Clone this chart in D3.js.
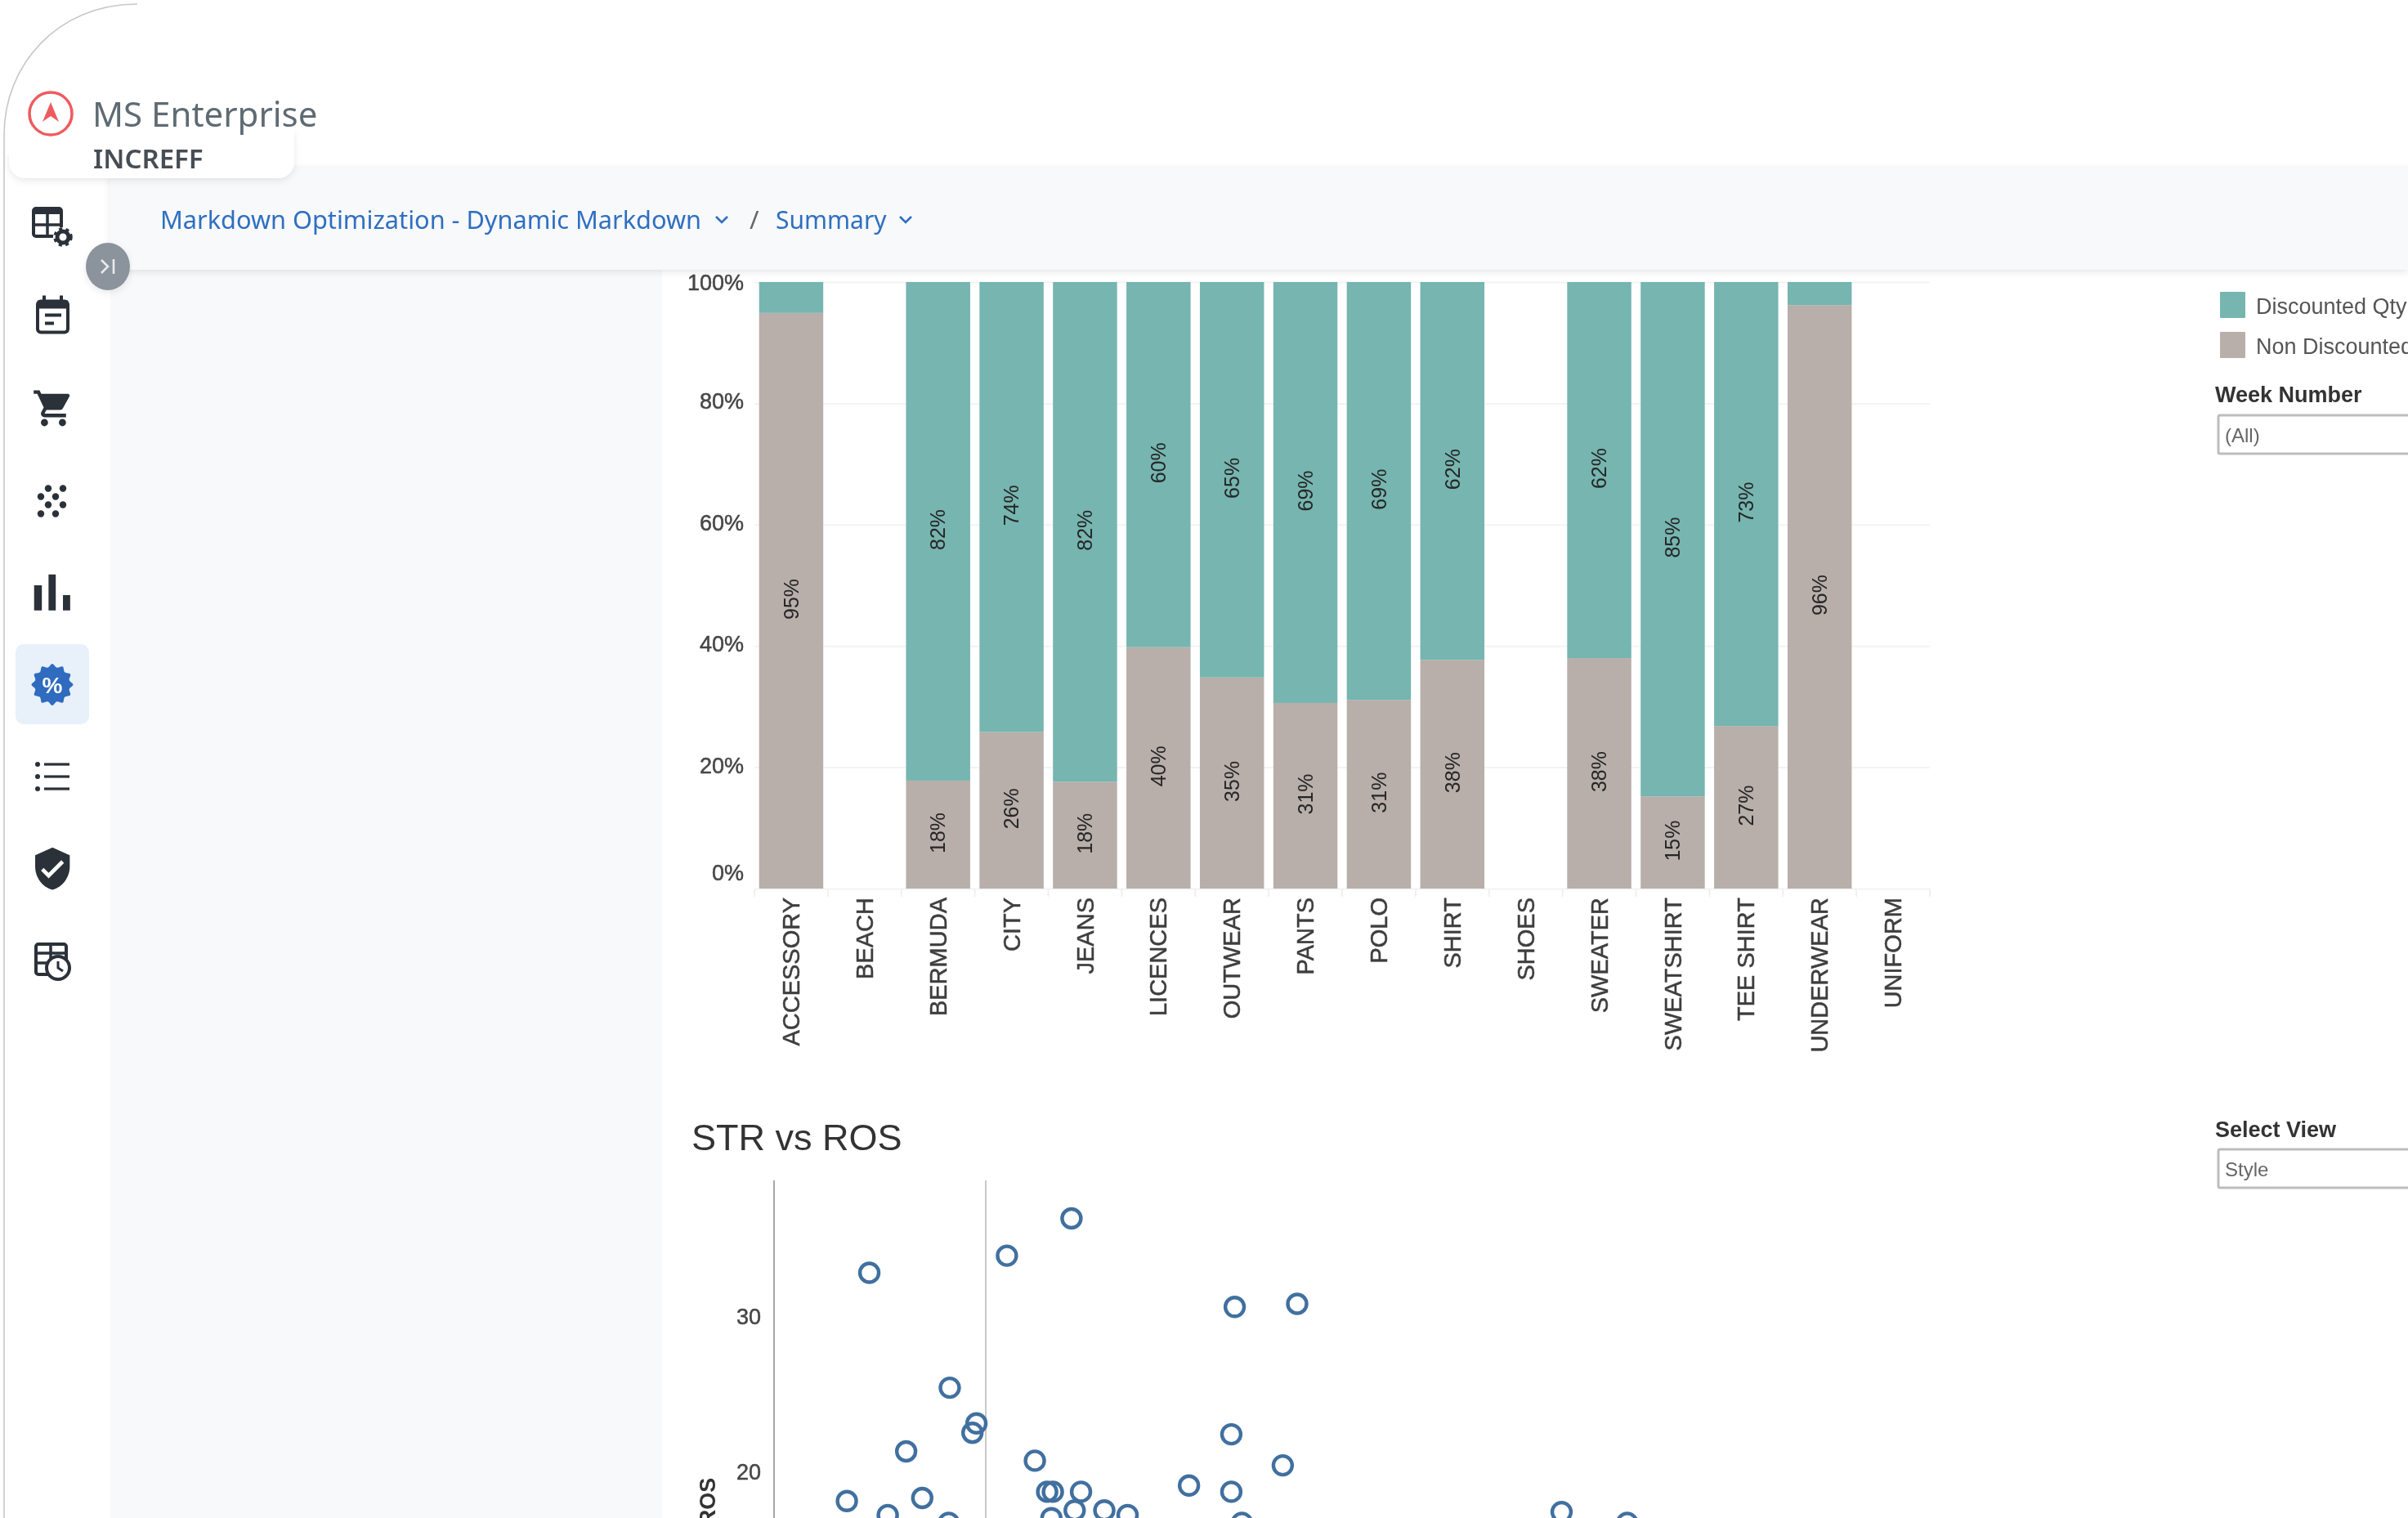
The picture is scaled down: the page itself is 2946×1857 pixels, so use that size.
<!DOCTYPE html>
<html>
<head>
<meta charset="utf-8">
<title>STR vs ROS</title>
<script src="https://d3js.org/d3.v7.min.js"></script>
<style>
    html, body { margin: 0; padding: 0; background: #fff; overflow: hidden; }
    svg { display: block; filter: blur(0.7px); }
    text { font-family: "Liberation Sans", Arial, sans-serif; }
    .ui text, text.ui { font-family: "Noto Sans", sans-serif; }
    .axis path { display: none; }
    .axis text { stroke: #444; stroke-width: 0.5; }
    .grid line { stroke: #f3f3f4; stroke-width: 2; }
    .grid text { display: none; }
    .grid path { display: none; }
</style>
</head>
<body>
<div id="page"></div>
<script>
// discount split per category, null = no sales
const categories = ['ACCESSORY','BEACH','BERMUDA','CITY','JEANS','LICENCES','OUTWEAR','PANTS','POLO','SHIRT','SHOES','SWEATER','SWEATSHIRT','TEE SHIRT','UNDERWEAR','UNIFORM'];
const nonDiscounted = [94.9,null,17.8,25.8,17.6,39.8,34.8,30.6,31.1,37.7,null,38.0,15.2,26.8,96.2,null];
const discounted = [5.1,null,82.2,74.2,82.4,60.2,65.2,69.4,68.9,62.3,null,62.0,84.8,73.2,3.8,null];
const percentTicks = [0,20,40,60,80,100];

const strValues = [14.05,11.0,4.5,21.76,24.71,8.3,9.56,9.37,21.6,6.24,12.32,24.03,19.6,21.6,12.9,13.17,14.5,3.44,7.0,5.37,14.2,15.6,16.7,13.1,37.2,40.3,8.25,22.1];
const rosValues = [36.5,34.1,33.0,30.8,31.0,25.6,23.3,22.7,22.6,21.5,20.9,20.6,19.3,18.9,18.9,18.9,18.9,18.3,18.5,17.4,17.7,17.7,17.4,17.2,17.6,16.9,16.9,16.9];
const rosTicks = [20,30];
const strReference = 10;

const iconRows = ['table','calendar','cart','dots','bars','discount','list','shield','clock'];

const pageWidth = 2946, pageHeight = 1857;
const teal = '#76b5b0', taupe = '#b8aeaa', pale = '#f8f9fb', ink = '#2a3138', blue = '#2f6fc0';

const svg = d3.select('#page').append('svg')
    .attr('width', pageWidth)
    .attr('height', pageHeight);

const defs = svg.append('defs');
defs.append('filter').attr('id', 'soft').attr('x', '-5%').attr('y', '-30%').attr('width', '110%').attr('height', '160%')
    .append('feDropShadow').attr('dx', 0).attr('dy', 3).attr('stdDeviation', 4).attr('flood-color', '#000').attr('flood-opacity', 0.09);

// sidebar icons, all drawn around 0,0
const drawIcon = {
    table(g) {
        g.append('rect').attr('x', -23).attr('y', -20).attr('width', 34).attr('height', 34).attr('rx', 3)
            .attr('fill', 'none').attr('stroke', ink).attr('stroke-width', 4);
        g.append('rect').attr('x', -23).attr('y', -21).attr('width', 34).attr('height', 8).attr('fill', ink);
        g.append('path').attr('d', 'M-6,-15 V14 M-23,0 H11').attr('stroke', ink).attr('stroke-width', 3.5);
        g.append('circle').attr('cx', 13).attr('cy', 15).attr('r', 12).attr('fill', '#fff');
        g.append('circle').attr('cx', 13).attr('cy', 15).attr('r', 7).attr('fill', 'none').attr('stroke', ink).attr('stroke-width', 5);
        g.append('circle').attr('cx', 13).attr('cy', 15).attr('r', 10).attr('fill', 'none').attr('stroke', ink)
            .attr('stroke-width', 3.5).attr('stroke-dasharray', '4 4.4');
    },
    calendar(g) {
        g.append('rect').attr('x', -18).attr('y', -19).attr('width', 37).attr('height', 38).attr('rx', 4)
            .attr('fill', 'none').attr('stroke', ink).attr('stroke-width', 4);
        g.append('rect').attr('x', -18).attr('y', -20).attr('width', 37).attr('height', 10).attr('fill', ink);
        g.append('path').attr('d', 'M-10,-26 V-16 M11,-26 V-16').attr('stroke', ink).attr('stroke-width', 4);
        g.append('path').attr('d', 'M-9,-2 H11 M-9,8 H2').attr('stroke', ink).attr('stroke-width', 4);
    },
    cart(g) {
        g.append('path').attr('transform', 'translate(-25,-27) scale(2.2)').attr('fill', ink)
            .attr('d', 'M7 18c-1.1 0-1.99.9-1.99 2S5.9 22 7 22s2-.9 2-2-.9-2-2-2zM1 2v2h2l3.6 7.59-1.35 2.45c-.16.28-.25.61-.25.96 0 1.1.9 2 2 2h12v-2H7.42c-.14 0-.25-.11-.25-.25l.03-.12.9-1.63h7.45c.75 0 1.41-.41 1.75-1.03l3.58-6.47c.08-.14.12-.31.12-.48 0-.55-.45-1-1-1H5.21l-.94-2H1zm16 16c-1.1 0-1.99.9-1.99 2s.89 2 1.99 2 2-.9 2-2-.9-2-2-2z');
    },
    dots(g) {
        let offsets = [[-5,-15],[13,-15],[-14,-5],[4,-5],[-5,5],[13,5],[-14,16],[4,16]];
        g.selectAll('circle').data(offsets).enter().append('circle')
            .attr('cx', d => d[0]).attr('cy', d => d[1]).attr('r', 4.2).attr('fill', ink);
    },
    bars(g) {
        g.append('path').attr('transform', 'translate(-38,-38) scale(3.15)').attr('fill', ink)
            .attr('d', 'M5 9.2h3V19H5zM10.6 5h2.8v14h-2.8zm5.6 8H19v6h-2.8z');
    },
    discount(g) {
        let radial = d3.lineRadial().curve(d3.curveCardinalClosed)
            .angle((d, i) => i * Math.PI / 12)
            .radius((d, i) => i % 2 ? 21.5 : 25.5);
        g.append('path').attr('d', radial(d3.range(24))).attr('fill', '#2f6bbf');
        g.append('text').attr('y', 10).attr('text-anchor', 'middle').attr('font-size', 28).attr('font-weight', 700)
            .attr('fill', '#fff').text('%');
    },
    list(g) {
        [-15, 0, 15].forEach(y => {
            g.append('circle').attr('cx', -18).attr('cy', y).attr('r', 3).attr('fill', ink);
            g.append('path').attr('d', `M-10,${y} H21`).attr('stroke', ink).attr('stroke-width', 3.2);
        });
    },
    shield(g) {
        g.append('path').attr('transform', 'translate(-28,-28) scale(2.35)').attr('fill', ink)
            .attr('d', 'M12 1L3 5v6c0 5.55 3.84 10.74 9 12 5.16-1.26 9-6.45 9-12V5l-9-4zm-2 16l-4-4 1.41-1.41L10 14.17l6.59-6.59L18 9l-8 8z');
    },
    clock(g) {
        g.append('rect').attr('x', -20).attr('y', -20).attr('width', 37).attr('height', 37).attr('rx', 3)
            .attr('fill', 'none').attr('stroke', ink).attr('stroke-width', 4);
        g.append('path').attr('d', 'M-20,-9 H17 M-20,3 H17 M-2,-20 V17').attr('stroke', ink).attr('stroke-width', 3.5);
        g.append('circle').attr('cx', 7).attr('cy', 9).attr('r', 14).attr('fill', '#fff').attr('stroke', ink).attr('stroke-width', 4);
        g.append('path').attr('d', 'M7,1 V9 L13,13').attr('fill', 'none').attr('stroke', ink).attr('stroke-width', 3);
    }
};

drawShell();
drawStackedBars();
drawScatter();
drawLegend();

function drawShell() {
    // page background pieces
    svg.append('rect').attr('x', 135).attr('y', 205).attr('width', 675).attr('height', pageHeight - 205).attr('fill', pale);
    svg.append('rect').attr('x', 135).attr('y', 203).attr('width', pageWidth - 135).attr('height', 127)
        .attr('fill', pale).attr('filter', 'url(#soft)');

    // logo card
    svg.append('rect').attr('x', 11).attr('y', 150).attr('width', 349).attr('height', 68).attr('rx', 20)
        .attr('fill', '#fff').attr('filter', 'url(#soft)');
    svg.append('rect').attr('x', 7).attr('y', 90).attr('width', 353).attr('height', 100).attr('fill', '#fff');

    // outer frame with the rounded corner
    svg.append('path')
        .attr('d', `M5,${pageHeight} L5,165 C5,80 70,5 168,5`)
        .attr('fill', 'none').attr('stroke', '#c6c8ca').attr('stroke-width', 1.6);

    let logo = svg.append('g').attr('transform', 'translate(62,139)');
    logo.append('circle').attr('r', 26).attr('fill', 'none').attr('stroke', '#ee5b5f').attr('stroke-width', 3.5);
    logo.append('path').attr('d', 'M0,-14 L10,10 L0,3 L-10,10 Z').attr('fill', '#ee5b5f');

    let ui = svg.append('g').attr('class', 'ui');
    ui.append('text').attr('x', 113).attr('y', 155).attr('font-size', 42).attr('fill', '#5f6b73').text('MS Enterprise');
    ui.append('text').attr('x', 114).attr('y', 206).attr('font-size', 33).attr('font-weight', 600).attr('fill', '#474d54').text('INCREFF');

    // breadcrumb
    ui.append('text').attr('x', 196).attr('y', 280).attr('font-size', 30.7).attr('fill', blue).text('Markdown Optimization - Dynamic Markdown');
    ui.append('text').attr('x', 917).attr('y', 280).attr('font-size', 31).attr('fill', '#666').text('/');
    ui.append('text').attr('x', 949).attr('y', 280).attr('font-size', 30).attr('fill', blue).text('Summary');
    [883, 1108].forEach(cx => {
        ui.append('path').attr('d', `M${cx - 7},265 l7,7 l7,-7`)
            .attr('fill', 'none').attr('stroke', blue).attr('stroke-width', 2.6);
    });

    // collapse button
    svg.append('ellipse').attr('cx', 132).attr('cy', 326).attr('rx', 27).attr('ry', 29)
        .attr('fill', '#8b939c').attr('filter', 'url(#soft)');
    svg.append('path').attr('d', 'M124,318 l8,8 l-8,8 M139,317 l0,18')
        .attr('fill', 'none').attr('stroke', '#e8eaec').attr('stroke-width', 2.6);

    // active menu tile
    svg.append('rect').attr('x', 19).attr('y', 788).attr('width', 90).attr('height', 98).attr('rx', 10).attr('fill', '#e8f0fa');

    iconRows.forEach((name, i) => {
        let cy = 275 + i * 112.5;
        drawIcon[name](svg.append('g').attr('transform', `translate(64,${cy})`));
    });
}

function drawStackedBars() {
    let margin = {top: 345, left: 923, right: 2361, bottom: 1087};

    let x = d3.scaleBand()
        .domain(categories)
        .range([margin.left, margin.right])
        .paddingInner(0.127)
        .paddingOuter(0.0635);

    let y = d3.scaleLinear()
        .domain([0, 100])
        .range([margin.bottom, margin.top]);

    // gridlines behind the bars
    svg.append('g')
        .attr('class', 'grid')
        .attr('transform', `translate(${margin.left},0)`)
        .call(d3.axisLeft(y).tickValues(percentTicks).tickSize(-(margin.right - margin.left)));

    // small marks between the categories
    let step = x.step();
    svg.append('g').selectAll('line')
        .data(d3.range(categories.length + 1))
        .enter().append('line')
        .attr('x1', d => margin.left + d * step)
        .attr('x2', d => margin.left + d * step)
        .attr('y1', margin.bottom + 1)
        .attr('y2', margin.bottom + 10)
        .attr('stroke', '#f0f0f0')
        .attr('stroke-width', 2);

    let rows = categories.map((c, i) => ({
        category: c,
        nonDiscounted: nonDiscounted[i],
        discounted: discounted[i]
    })).filter(d => d.nonDiscounted !== null);

    let stack = d3.stack().keys(['nonDiscounted', 'discounted'])(rows);
    let colors = {nonDiscounted: taupe, discounted: teal};

    stack.forEach(layer => {
        svg.append('g').selectAll('rect')
            .data(layer)
            .enter().append('rect')
            .attr('x', d => x(d.data.category))
            .attr('width', x.bandwidth())
            .attr('y', d => y(d[1]))
            .attr('height', d => y(d[0]) - y(d[1]))
            .attr('fill', colors[layer.key]);

        // small segments carry no label
        svg.append('g').selectAll('text')
            .data(layer.filter(d => d.data[layer.key] >= 10))
            .enter().append('text')
            .attr('transform', d => `translate(${x(d.data.category) + x.bandwidth() / 2},${y((d[0] + d[1]) / 2) - 2}) rotate(-90)`)
            .attr('text-anchor', 'middle')
            .attr('dy', '.35em')
            .attr('font-size', 25)
            .attr('fill', '#262626')
            .text(d => Math.round(d.data[layer.key]) + '%');
    });

    // y axis
    let yAxis = svg.append('g')
        .attr('class', 'axis')
        .attr('transform', `translate(${margin.left - 1},0)`)
        .call(d3.axisLeft(y).tickValues(percentTicks).tickSize(0).tickPadding(12).tickFormat(d => d + '%'));
    yAxis.selectAll('text')
        .attr('font-size', 27)
        .attr('fill', '#474747')
        .attr('dy', d => d === 0 ? '-0.4em' : d === 100 ? '0.34em' : '0.24em');

    // x axis
    let xAxis = svg.append('g')
        .attr('class', 'axis')
        .attr('transform', `translate(0,${margin.bottom})`)
        .call(d3.axisBottom(x).tickSize(0));
    xAxis.selectAll('text')
        .attr('transform', 'rotate(-90)')
        .attr('text-anchor', 'end')
        .attr('x', -11)
        .attr('y', 0)
        .attr('dy', '.35em')
        .attr('font-size', 29)
        .attr('fill', '#3d3d3d');
}

function drawScatter() {
    let x = d3.scaleLinear().domain([0, 10]).range([947, 1206]);
    let y = d3.scaleLinear().domain([20, 30]).range([1804, 1614]);

    svg.append('text')
        .attr('x', 846).attr('y', 1407)
        .attr('font-size', 45)
        .attr('fill', '#333')
        .text('STR vs ROS');

    svg.append('line')
        .attr('x1', x(0)).attr('x2', x(0)).attr('y1', 1444).attr('y2', pageHeight)
        .attr('stroke', '#a8a8a8').attr('stroke-width', 2);
    svg.append('line')
        .attr('x1', x(strReference)).attr('x2', x(strReference)).attr('y1', 1444).attr('y2', pageHeight)
        .attr('stroke', '#c9c9c9').attr('stroke-width', 2);

    let yAxis = svg.append('g')
        .attr('class', 'axis')
        .attr('transform', 'translate(947,0)')
        .call(d3.axisLeft(y).tickValues(rosTicks).tickSize(0).tickPadding(16));
    yAxis.selectAll('text')
        .attr('font-size', 27)
        .attr('fill', '#474747')
        .attr('dy', '0.22em');

    svg.append('text')
        .attr('transform', 'translate(875,1837) rotate(-90)')
        .attr('text-anchor', 'middle')
        .attr('font-size', 27)
        .attr('font-weight', 700)
        .attr('fill', '#333')
        .text('ROS');

    svg.append('g').selectAll('circle')
        .data(strValues.map((d, i) => [d, rosValues[i]]))
        .enter().append('circle')
        .attr('cx', d => x(d[0]))
        .attr('cy', d => y(d[1]))
        .attr('r', 11.5)
        .attr('fill', 'none')
        .attr('stroke', '#41709f')
        .attr('stroke-width', 4.4);
}

function drawLegend() {
    let items = [
        {label: 'Discounted Qty', color: teal, top: 357},
        {label: 'Non Discounted Qty', color: taupe, top: 406}
    ];
    items.forEach(d => {
        svg.append('rect').attr('x', 2716).attr('y', d.top).attr('width', 31).attr('height', 32)
            .attr('rx', 1).attr('fill', d.color);
        svg.append('text').attr('x', 2760).attr('y', d.top + 27)
            .attr('font-size', 27).attr('fill', '#555').text(d.label);
    });

    drawFilter('Week Number', '(All)', 492, 508);
    drawFilter('Select View', 'Style', 1391, 1406);
}

function drawFilter(title, value, titleY, boxY) {
    svg.append('text').attr('x', 2710).attr('y', titleY)
        .attr('font-size', 27).attr('font-weight', 700).attr('fill', '#333').text(title);
    svg.append('rect').attr('x', 2714).attr('y', boxY).attr('width', 300).attr('height', 47).attr('rx', 2)
        .attr('fill', '#fff').attr('stroke', '#bdbdbd').attr('stroke-width', 3);
    svg.append('text').attr('x', 2722).attr('y', boxY + 33)
        .attr('font-size', 24).attr('fill', '#666').text(value);
}
</script>
</body>
</html>
